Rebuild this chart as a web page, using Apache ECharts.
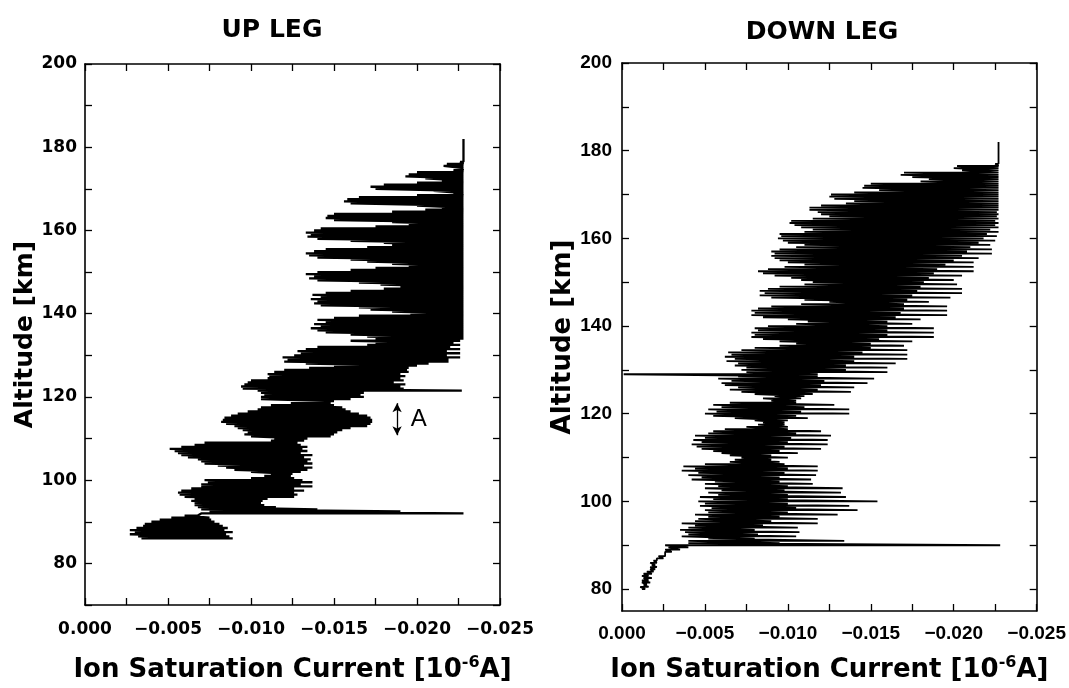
<!DOCTYPE html>
<html><head><meta charset="utf-8">
<script src="https://cdn.jsdelivr.net/npm/echarts@6/dist/echarts.min.js"></script>
<style>html,body{margin:0;padding:0;background:#fff;overflow:hidden;width:1069px;height:688px}#c{width:1069px;height:688px;display:block}</style>
</head><body><div id="c"></div>
<script>
// ---------- UP LEG: altitude [km], left (weakest) and right (strongest) current extremes [1e-6 A]
const upAlt = [
 86,86.5,87,87.5,88,88.5,89,89.5,90,90.5,
 91,91.5,92,92.5,93,93.5,94,94.5,95,95.5,
 96,96.5,97,97.5,98,98.5,99,99.5,100,100.5,
 101,101.5,102,102.5,103,103.5,104,104.5,105,105.5,
 106,106.5,107,107.5,108,108.5,109,109.5,110,110.5,
 111,111.5,112,112.5,113,113.5,114,114.5,115,115.5,
 116,116.5,117,117.5,118,118.5,119,119.5,120,120.5,
 121,121.5,122,122.5,123,123.5,124,124.5,125,125.5,
 126,126.5,127,127.5,128,128.5,129,129.5,130,130.5,
 131,131.5,132,132.5,133,133.5,134,134.5,135,135.5,
 136,136.5,137,137.5,138,138.5,139,139.5,140,140.5,
 141,141.5,142,142.5,143,143.5,144,144.5,145,145.5,
 146,146.5,147,147.5,148,148.5,149,149.5,150,150.5,
 151,151.5,152,152.5,153,153.5,154,154.5,155,155.5,
 156,156.5,157,157.5,158,158.5,159,159.5,160,160.5,
 161,161.5,162,162.5,163,163.5,164,164.5,165,165.5,
 166,166.5,167,167.5,168,168.5,169,169.5,170,170.5,
 171,171.5,172,172.5,173,173.5,174,174.5,175,175.5,
 176,176.5,177,177.5,178,178.5,179,179.5,180,180.5,
 181,181.5,182];
const upLeft = [
 -0.0034,-0.0032,-0.0027,-0.0030,-0.0027,-0.0031,-0.0035,-0.0036,-0.0040,-0.0045,
 -0.0052,-0.0060,-0.0070,-0.0075,-0.0070,-0.0068,-0.0066,-0.0066,-0.0064,-0.0066,
 -0.0060,-0.0057,-0.0056,-0.0058,-0.0064,-0.0070,-0.0070,-0.0074,-0.0072,-0.0100,
 -0.0108,-0.0112,-0.0100,-0.0090,-0.0085,-0.0080,-0.0072,-0.0070,-0.0068,-0.0062,
 -0.0058,-0.0056,-0.0054,-0.0051,-0.0058,-0.0066,-0.0072,-0.0112,-0.0114,-0.0100,
 -0.0096,-0.0098,-0.0095,-0.0092,-0.0090,-0.0085,-0.0082,-0.0083,-0.0084,-0.0088,
 -0.0092,-0.0098,-0.0104,-0.0106,-0.0112,-0.0124,-0.0126,-0.0106,-0.0106,-0.0108,
 -0.0106,-0.0104,-0.0095,-0.0094,-0.0096,-0.0098,-0.0100,-0.0110,-0.0111,-0.0110,
 -0.0114,-0.0120,-0.0135,-0.0150,-0.0133,-0.0120,-0.0122,-0.0119,-0.0126,-0.0130,
 -0.0128,-0.0133,-0.0140,-0.0170,-0.0175,-0.0160,-0.0175,-0.0170,-0.0160,-0.0145,
 -0.0140,-0.0136,-0.0142,-0.0138,-0.0145,-0.0140,-0.0150,-0.0165,-0.0196,-0.0185,
 -0.0172,-0.0165,-0.0142,-0.0138,-0.0140,-0.0136,-0.0142,-0.0137,-0.0145,-0.0160,
 -0.0180,-0.0190,-0.0178,-0.0165,-0.0140,-0.0135,-0.0138,-0.0133,-0.0140,-0.0160,
 -0.0175,-0.0195,-0.0185,-0.0170,-0.0160,-0.0140,-0.0135,-0.0133,-0.0138,-0.0145,
 -0.0170,-0.0185,-0.0180,-0.0160,-0.0140,-0.0134,-0.0136,-0.0133,-0.0138,-0.0142,
 -0.0175,-0.0195,-0.0185,-0.0150,-0.0145,-0.0146,-0.0150,-0.0185,-0.0205,-0.0215,
 -0.0200,-0.0160,-0.0156,-0.0158,-0.0165,-0.0200,-0.0222,-0.0210,-0.0175,-0.0172,
 -0.0180,-0.0200,-0.0215,-0.0205,-0.0193,-0.0195,-0.0200,-0.0222,-0.0226,-0.0216,
 -0.0218,-0.0226,-0.0228,-0.0228,-0.0228,-0.0228,-0.0228,-0.0228,-0.0228,-0.0228,
 -0.0228,-0.0228,-0.0228];
const upRight = [
 -0.0089,-0.0087,-0.0085,-0.0089,-0.0084,-0.0086,-0.0083,-0.0081,-0.0078,-0.0076,
 -0.0075,-0.0068,-0.0228,-0.0190,-0.0140,-0.0115,-0.0108,-0.0106,-0.0107,-0.0110,
 -0.0126,-0.0128,-0.0126,-0.0132,-0.0126,-0.0137,-0.0130,-0.0137,-0.0131,-0.0126,
 -0.0124,-0.0125,-0.0130,-0.0134,-0.0137,-0.0132,-0.0137,-0.0134,-0.0136,-0.0132,
 -0.0137,-0.0130,-0.0134,-0.0131,-0.0134,-0.0130,-0.0128,-0.0132,-0.0134,-0.0148,
 -0.0150,-0.0152,-0.0155,-0.0160,-0.0170,-0.0172,-0.0173,-0.0173,-0.0172,-0.0170,
 -0.0165,-0.0160,-0.0157,-0.0155,-0.0150,-0.0148,-0.0150,-0.0160,-0.0168,-0.0166,
 -0.0168,-0.0227,-0.0192,-0.0190,-0.0193,-0.0186,-0.0192,-0.0190,-0.0193,-0.0190,
 -0.0195,-0.0194,-0.0195,-0.0200,-0.0207,-0.0219,-0.0219,-0.0226,-0.0218,-0.0226,
 -0.0218,-0.0226,-0.0220,-0.0226,-0.0222,-0.0226,-0.0228,-0.0228,-0.0228,-0.0228,
 -0.0228,-0.0228,-0.0228,-0.0228,-0.0228,-0.0228,-0.0228,-0.0228,-0.0228,-0.0228,
 -0.0228,-0.0228,-0.0228,-0.0228,-0.0228,-0.0228,-0.0228,-0.0228,-0.0228,-0.0228,
 -0.0228,-0.0228,-0.0228,-0.0228,-0.0228,-0.0228,-0.0228,-0.0228,-0.0228,-0.0228,
 -0.0228,-0.0228,-0.0228,-0.0228,-0.0228,-0.0228,-0.0228,-0.0228,-0.0228,-0.0228,
 -0.0228,-0.0228,-0.0228,-0.0228,-0.0228,-0.0228,-0.0228,-0.0228,-0.0228,-0.0228,
 -0.0228,-0.0228,-0.0228,-0.0228,-0.0228,-0.0228,-0.0228,-0.0228,-0.0228,-0.0228,
 -0.0228,-0.0228,-0.0228,-0.0228,-0.0228,-0.0228,-0.0228,-0.0228,-0.0228,-0.0228,
 -0.0228,-0.0228,-0.0228,-0.0228,-0.0228,-0.0228,-0.0228,-0.0228,-0.0228,-0.0228,
 -0.0228,-0.0228,-0.0228,-0.0228,-0.0228,-0.0228,-0.0228,-0.0228,-0.0228,-0.0228,
 -0.0228,-0.0228,-0.0228];

// ---------- DOWN LEG
const downAlt = [
 80,80.5,81,81.5,82,82.5,83,83.5,84,84.5,
 85,85.5,86,86.5,87,87.5,88,88.5,89,89.5,
 90,90.5,91,91.5,92,92.5,93,93.5,94,94.5,
 95,95.5,96,96.5,97,97.5,98,98.5,99,99.5,
 100,100.5,101,101.5,102,102.5,103,103.5,104,104.5,
 105,105.5,106,106.5,107,107.5,108,108.5,109,109.5,
 110,110.5,111,111.5,112,112.5,113,113.5,114,114.5,
 115,115.5,116,116.5,117,117.5,118,118.5,119,119.5,
 120,120.5,121,121.5,122,122.5,123,123.5,124,124.5,
 125,125.5,126,126.5,127,127.5,128,128.5,129,129.5,
 130,130.5,131,131.5,132,132.5,133,133.5,134,134.5,
 135,135.5,136,136.5,137,137.5,138,138.5,139,139.5,
 140,140.5,141,141.5,142,142.5,143,143.5,144,144.5,
 145,145.5,146,146.5,147,147.5,148,148.5,149,149.5,
 150,150.5,151,151.5,152,152.5,153,153.5,154,154.5,
 155,155.5,156,156.5,157,157.5,158,158.5,159,159.5,
 160,160.5,161,161.5,162,162.5,163,163.5,164,164.5,
 165,165.5,166,166.5,167,167.5,168,168.5,169,169.5,
 170,170.5,171,171.5,172,172.5,173,173.5,174,174.5,
 175,175.5,176,176.5,177,177.5,178,178.5,179,179.5,
 180,180.5,181,181.5,182];
const downLeft = [
 -0.0012,-0.0011,-0.0013,-0.0012,-0.0012,-0.0013,-0.0012,-0.0013,-0.0015,-0.0017,
 -0.0017,-0.0018,-0.0017,-0.0019,-0.0021,-0.0022,-0.0026,-0.0026,-0.0026,-0.0028,
 -0.0026,-0.0040,-0.0040,-0.0052,-0.0036,-0.0040,-0.0038,-0.0035,-0.0040,-0.0044,
 -0.0036,-0.0044,-0.0046,-0.0052,-0.0044,-0.0052,-0.0050,-0.0054,-0.0047,-0.0050,
 -0.0046,-0.0055,-0.0047,-0.0058,-0.0052,-0.0060,-0.0050,-0.0058,-0.0050,-0.0056,
 -0.0042,-0.0048,-0.0040,-0.0046,-0.0036,-0.0044,-0.0037,-0.0050,-0.0065,-0.0068,
 -0.0072,-0.0065,-0.0060,-0.0055,-0.0048,-0.0045,-0.0042,-0.0048,-0.0043,-0.0050,
 -0.0044,-0.0052,-0.0055,-0.0062,-0.0075,-0.0082,-0.0085,-0.0080,-0.0068,-0.0055,
 -0.0050,-0.0057,-0.0052,-0.0060,-0.0055,-0.0065,-0.0090,-0.0085,-0.0092,-0.0080,
 -0.0072,-0.0065,-0.0070,-0.0062,-0.0060,-0.0066,-0.0058,-0.0070,-0.0001,-0.0075,
 -0.0072,-0.0075,-0.0068,-0.0070,-0.0063,-0.0068,-0.0062,-0.0066,-0.0064,-0.0072,
 -0.0080,-0.0095,-0.0105,-0.0095,-0.0085,-0.0078,-0.0080,-0.0078,-0.0082,-0.0080,
 -0.0088,-0.0105,-0.0112,-0.0100,-0.0085,-0.0078,-0.0080,-0.0078,-0.0082,-0.0090,
 -0.0108,-0.0125,-0.0110,-0.0090,-0.0083,-0.0086,-0.0083,-0.0088,-0.0095,-0.0110,
 -0.0115,-0.0108,-0.0102,-0.0092,-0.0085,-0.0082,-0.0088,-0.0098,-0.0110,-0.0100,
 -0.0095,-0.0092,-0.0090,-0.0092,-0.0090,-0.0095,-0.0105,-0.0110,-0.0100,-0.0097,
 -0.0094,-0.0096,-0.0095,-0.0110,-0.0115,-0.0108,-0.0104,-0.0101,-0.0102,-0.0115,
 -0.0125,-0.0120,-0.0118,-0.0113,-0.0113,-0.0120,-0.0135,-0.0140,-0.0128,-0.0125,
 -0.0126,-0.0140,-0.0155,-0.0145,-0.0146,-0.0150,-0.0180,-0.0185,-0.0175,-0.0168,
 -0.0170,-0.0205,-0.0200,-0.0202,-0.0225,-0.0227,-0.0227,-0.0227,-0.0227,-0.0227,
 -0.0227,-0.0227,-0.0227,-0.0227,-0.0227];
const downRight = [
 -0.0014,-0.0016,-0.0015,-0.0017,-0.0016,-0.0018,-0.0016,-0.0018,-0.0019,-0.0020,
 -0.0021,-0.0020,-0.0021,-0.0021,-0.0025,-0.0026,-0.0027,-0.0030,-0.0035,-0.0040,
 -0.0228,-0.0095,-0.0134,-0.0080,-0.0105,-0.0082,-0.0107,-0.0080,-0.0106,-0.0085,
 -0.0118,-0.0090,-0.0118,-0.0095,-0.0130,-0.0100,-0.0142,-0.0105,-0.0137,-0.0100,
 -0.0154,-0.0100,-0.0135,-0.0100,-0.0132,-0.0098,-0.0133,-0.0100,-0.0115,-0.0095,
 -0.0114,-0.0095,-0.0117,-0.0098,-0.0118,-0.0100,-0.0118,-0.0098,-0.0095,-0.0090,
 -0.0100,-0.0090,-0.0106,-0.0095,-0.0120,-0.0098,-0.0124,-0.0100,-0.0124,-0.0102,
 -0.0126,-0.0105,-0.0120,-0.0100,-0.0100,-0.0098,-0.0098,-0.0100,-0.0112,-0.0105,
 -0.0137,-0.0108,-0.0137,-0.0110,-0.0128,-0.0105,-0.0105,-0.0108,-0.0110,-0.0115,
 -0.0138,-0.0118,-0.0140,-0.0120,-0.0148,-0.0122,-0.0152,-0.0118,-0.0118,-0.0160,
 -0.0135,-0.0160,-0.0135,-0.0165,-0.0140,-0.0172,-0.0140,-0.0172,-0.0145,-0.0172,
 -0.0150,-0.0170,-0.0150,-0.0175,-0.0155,-0.0188,-0.0160,-0.0188,-0.0160,-0.0188,
 -0.0160,-0.0175,-0.0160,-0.0180,-0.0165,-0.0196,-0.0168,-0.0196,-0.0170,-0.0196,
 -0.0170,-0.0185,-0.0172,-0.0198,-0.0175,-0.0205,-0.0178,-0.0205,-0.0180,-0.0202,
 -0.0182,-0.0200,-0.0185,-0.0205,-0.0188,-0.0212,-0.0190,-0.0212,-0.0195,-0.0212,
 -0.0200,-0.0215,-0.0205,-0.0223,-0.0208,-0.0223,-0.0210,-0.0222,-0.0215,-0.0225,
 -0.0218,-0.0226,-0.0220,-0.0227,-0.0222,-0.0227,-0.0225,-0.0227,-0.0225,-0.0227,
 -0.0226,-0.0227,-0.0226,-0.0227,-0.0227,-0.0227,-0.0227,-0.0227,-0.0227,-0.0227,
 -0.0227,-0.0227,-0.0227,-0.0227,-0.0227,-0.0227,-0.0227,-0.0227,-0.0227,-0.0227,
 -0.0227,-0.0227,-0.0227,-0.0227,-0.0227,-0.0227,-0.0227,-0.0227,-0.0227,-0.0227,
 -0.0227,-0.0227,-0.0227,-0.0227,-0.0227];

// ---------- ticks / labels
const xTicks = [0,-0.0025,-0.005,-0.0075,-0.01,-0.0125,-0.015,-0.0175,-0.02,-0.0225,-0.025];
const xLabels = [0,-0.005,-0.01,-0.015,-0.02,-0.025];
const upYTicks = [70,80,90,100,110,120,130,140,150,160,170,180,190,200];
const upYLabels = [80,100,120,140,160,180,200];
const downYTicks = [80,90,100,110,120,130,140,150,160,170,180,190,200];
const downYLabels = [80,100,120,140,160,180,200];
const titles = ['UP LEG','DOWN LEG'];
const yName = 'Altitude [km]';
const xName = 'Ion Saturation Current [10{sup|-6}A]';
const markA = {alt:[118.5,110.8], cur:-0.0188, label:'A', labelAlt:114.7, labelCur:-0.0201};

function zig(alt, lo, hi){
  const d = [];
  for (let i = 0; i < alt.length; i++){ d.push([lo[i], alt[i]]); d.push([hi[i], alt[i]]); }
  return d;
}
const fmtX = v => Math.abs(v) < 1e-9 ? '0.000' : '\u2212' + Math.abs(v).toFixed(3);

function xAxis(grid, pos, lab, font){
  const a = {type:'value', gridIndex:grid, position:pos, min:-0.025, max:0, inverse:true,
    axisLine:{show:true, onZero:false, lineStyle:{color:'#000', width:1.6}},
    axisTick:{show:true, inside:true, length:7, lineStyle:{color:'#000', width:1.3}, customValues:xTicks},
    splitLine:{show:false}, axisLabel:{show:false}};
  if (lab){
    a.axisLabel = {show:true, customValues:xLabels, formatter:fmtX, color:'#000',
      fontFamily:font.f, fontWeight:'bold', fontSize:font.s, margin:font.m};
    a.name = xName; a.nameLocation = 'middle'; a.nameGap = font.ng;
    a.nameTextStyle = {color:'#000', fontFamily:'DejaVu Sans', fontWeight:'bold', fontSize:26,
      rich:{sup:{fontFamily:'DejaVu Sans', fontWeight:'bold', fontSize:16, verticalAlign:'top', lineHeight:30}}};
  }
  return a;
}
function yAxis(grid, pos, lab, min, ticks, labels, font){
  const a = {type:'value', gridIndex:grid, position:pos, min:min, max:200,
    axisLine:{show:true, onZero:false, lineStyle:{color:'#000', width:1.6}},
    axisTick:{show:true, inside:true, length:7, lineStyle:{color:'#000', width:1.3}, customValues:ticks},
    splitLine:{show:false}, axisLabel:{show:false}};
  if (lab){
    a.axisLabel = {show:true, customValues:labels, color:'#000', fontFamily:font.f, fontWeight:'bold', fontSize:font.s, margin:font.m};
    a.name = yName; a.nameLocation = 'middle'; a.nameGap = font.ng; a.nameRotate = 90;
    a.nameTextStyle = {color:'#000', fontFamily:'DejaVu Sans', fontWeight:'bold', fontSize:font.ns};
  }
  return a;
}

const fL = {f:'DejaVu Sans', s:17, m:16, ng:50};
const fR = {f:'Liberation Sans', s:19, m:13, ng:44};
const option = {
  animation:false,
  backgroundColor:'#fff',
  grid:[{left:85, top:64, width:415, height:544}, {left:622, top:63, width:418, height:553}],
  xAxis:[xAxis(0,'bottom',true,fL), xAxis(0,'top',false), xAxis(1,'bottom',true,fR), xAxis(1,'top',false)],
  yAxis:[yAxis(0,'left',true,70,upYTicks,upYLabels,{f:'DejaVu Sans', s:17, m:8, ng:42, ns:25}),
         yAxis(0,'right',false,70,upYTicks),
         yAxis(1,'left',true,75,downYTicks,downYLabels,{f:'Liberation Sans', s:19, m:10, ng:45, ns:26}),
         yAxis(1,'right',false,75,downYTicks)],
  series:[
    {type:'line', xAxisIndex:0, yAxisIndex:0, data:zig(upAlt, upLeft, upRight), showSymbol:false, symbol:'none',
     lineStyle:{color:'#000', width:2.3, join:'bevel'}, sampling:null, silent:true, clip:true,
     markLine:{silent:true, symbol:['arrow','arrow'], symbolSize:[7,9], animation:false,
       lineStyle:{color:'#000', width:1.3, type:'solid'}, label:{show:false},
       data:[[{coord:[markA.cur, markA.alt[0]]},{coord:[markA.cur, markA.alt[1]]}]]},
     markPoint:{silent:true, animation:false, symbol:'circle', symbolSize:1, itemStyle:{color:'rgba(0,0,0,0)'},
       label:{show:true, position:'inside', formatter:markA.label, color:'#000', fontFamily:'Liberation Sans', fontSize:24},
       data:[{coord:[markA.labelCur, markA.labelAlt]}]}},
    {type:'line', xAxisIndex:2, yAxisIndex:2, data:zig(downAlt, downLeft, downRight), showSymbol:false, symbol:'none',
     lineStyle:{color:'#000', width:1.8, join:'bevel'}, sampling:null, silent:true, clip:true}
  ],
  graphic:[
    {type:'text', x:272, y:18, style:{text:titles[0], fontFamily:'DejaVu Sans', fontWeight:'bold', fontSize:25, fill:'#000', align:'center'}},
    {type:'text', x:822, y:20, style:{text:titles[1], fontFamily:'DejaVu Sans', fontWeight:'bold', fontSize:25, fill:'#000', align:'center'}}
  ]
};
const chart = echarts.init(document.getElementById('c'), null, {renderer:'canvas'});
chart.setOption(option);
</script></body></html>
